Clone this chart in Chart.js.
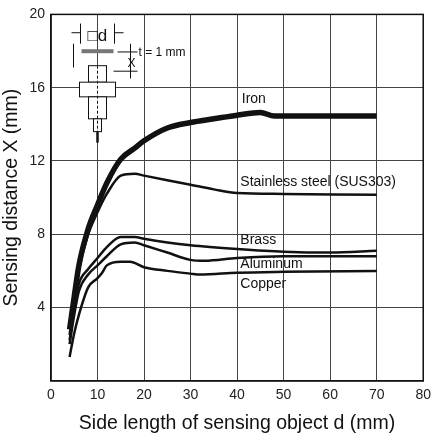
<!DOCTYPE html><html><head><script src="https://cdn.jsdelivr.net/npm/chart.js"></script>
<style>body{margin:0;background:#fff}#w{width:437px;height:437px}</style></head><body><div id="w"><canvas id="c"></canvas></div>
<script>
const ironX=[4,5,6,8,10,12,15,18,20,25,30,35,40,45,48,55,70];
const ironY=[2.8,4.6,6.3,8.3,9.6,10.8,12.1,12.7,13.1,13.8,14.1,14.3,14.5,14.65,14.45,14.45,14.45];
const ssX=[4,5,6,8,10,12,15,18,20,25,30,35,40,50,70];
const ssY=[2.5,4.3,6.0,8.0,9.2,10.2,11.2,11.3,11.2,10.95,10.7,10.45,10.25,10.2,10.15];
const brassX=[4,5,6,8,10,12,15,18,20,25,30,40,50,60,70];
const brassY=[2.2,4.0,5.3,6.1,6.7,7.3,7.85,7.85,7.75,7.55,7.4,7.2,7.05,7.0,7.1];
const alX=[4,5,6,8,10,12,15,18,20,25,30,33,40,50,70];
const alY=[2.0,3.6,4.9,5.8,6.3,6.8,7.45,7.55,7.4,7.0,6.6,6.55,6.7,6.8,6.8];
const cuX=[4,5,6,8,10,11,12,15,17,20,25,30,32,40,50,70];
const cuY=[1.3,2.6,3.6,5.1,5.6,5.9,6.3,6.5,6.5,6.2,6.0,5.85,5.8,5.9,5.95,6.0];
const labels=[["Iron",41,15.4],["Stainless steel (SUS303)",40.7,10.85],["Brass",40.7,7.7],["Aluminum",40.7,6.35],["Copper",40.7,5.3]];
const xTicks=[0,10,20,30,40,50,60,70,80];
const yTicks=[4,8,12,16,20];
const pts=(x,y)=>x.map((v,i)=>({x:v,y:y[i]}));
const ds=(x,y,w)=>({data:pts(x,y),borderColor:'#111',borderWidth:w,pointRadius:0,cubicInterpolationMode:'monotone',fill:false});
const deco={id:'deco',afterDatasetsDraw(ch){const c=ch.ctx,xs=ch.scales.x,ys=ch.scales.y;
c.save();c.fillStyle='#111';c.font='14px "Liberation Sans", Arial';c.textBaseline='middle';
labels.forEach(l=>c.fillText(l[0],xs.getPixelForValue(l[1]),ys.getPixelForValue(l[2])));
const X=v=>xs.getPixelForValue(v),Y=v=>ys.getPixelForValue(v);
c.strokeStyle='#111';c.lineWidth=1;c.fillStyle='#fff';
const cx=X(10);
const box=(x,y1,w,y2)=>{c.fillStyle='#fff';c.fillRect(x,Y(y1),w,Y(y2)-Y(y1));c.strokeRect(x,Y(y1),w,Y(y2)-Y(y1));};
box(cx-9,17.2,18,16.3);box(cx-18,16.3,36,15.5);box(cx-9,15.5,18,14.3);box(cx-4,14.3,8,13.6);
c.beginPath();c.moveTo(cx,Y(13.6));c.lineTo(cx,Y(13.0));c.lineWidth=2.5;c.stroke();c.lineWidth=1;
c.fillStyle='#777';c.fillRect(cx-16,Y(18.1),32,4);
c.fillStyle='#111';c.font='17px "Liberation Sans", Arial';c.fillText('□d',cx-10,Y(18.8));
c.font='12px "Liberation Sans", Arial';c.fillText('t = 1 mm',cx+41,Y(17.9));c.fillText('X',cx+30,Y(17.3));
c.beginPath();c.moveTo(cx+20,Y(17.95));c.lineTo(cx+40,Y(17.95));c.moveTo(cx+16,Y(16.9));c.lineTo(cx+40,Y(16.9));
c.moveTo(cx+33,Y(18.4));c.lineTo(cx+33,Y(16.5));
c.moveTo(cx-26,Y(19.0));c.lineTo(cx-17,Y(19.0));c.moveTo(cx+17,Y(19.0));c.lineTo(cx+26,Y(19.0));
c.moveTo(cx-17,Y(19.5));c.lineTo(cx-17,Y(18.4));c.moveTo(cx+17,Y(19.5));c.lineTo(cx+17,Y(18.4));
c.moveTo(cx-24,Y(18.4));c.lineTo(cx-24,Y(17.1));c.stroke();
c.setLineDash([3,2]);c.beginPath();c.moveTo(cx,Y(17.2));c.lineTo(cx,Y(13.6));c.stroke();
c.restore();}};
new Chart(document.getElementById('c'),{type:'line',data:{datasets:[ds(ironX,ironY,5.5),ds(ssX,ssY,2.5),ds(brassX,brassY,2.5),ds(alX,alY,2.5),ds(cuX,cuY,2.5)]},
options:{responsive:true,maintainAspectRatio:false,animation:false,layout:{padding:{top:3,right:0,left:0}},
plugins:{legend:{display:false},tooltip:{enabled:false}},
scales:{x:{type:'linear',min:0,max:80,afterBuildTicks:a=>{a.ticks=xTicks.map(v=>({value:v}))},
grid:{color:'#444',lineWidth:1,drawTicks:false},border:{color:'#111',width:1.5},ticks:{color:'#222',font:{size:14,family:'Liberation Sans'},padding:6},
title:{display:true,text:'Side length of sensing object d (mm)',color:'#111',font:{size:19.5,family:'Liberation Sans'},padding:{top:2,bottom:2}}},
y:{min:0,max:20,afterBuildTicks:a=>{a.ticks=yTicks.map(v=>({value:v}))},
grid:{color:'#444',lineWidth:1,drawTicks:false},border:{color:'#111',width:1.5},ticks:{color:'#222',font:{size:14,family:'Liberation Sans'},padding:6},
title:{display:true,text:'Sensing distance X (mm)',color:'#111',font:{size:19.5,family:'Liberation Sans'},padding:{bottom:0,top:0}}}}},
plugins:[deco,{id:'frame',afterDraw(ch){const a=ch.chartArea,c=ch.ctx;c.save();c.strokeStyle='#111';c.lineWidth=1.5;c.strokeRect(a.left,a.top,a.right-a.left,a.bottom-a.top);c.restore();}}]});
</script></body></html>
